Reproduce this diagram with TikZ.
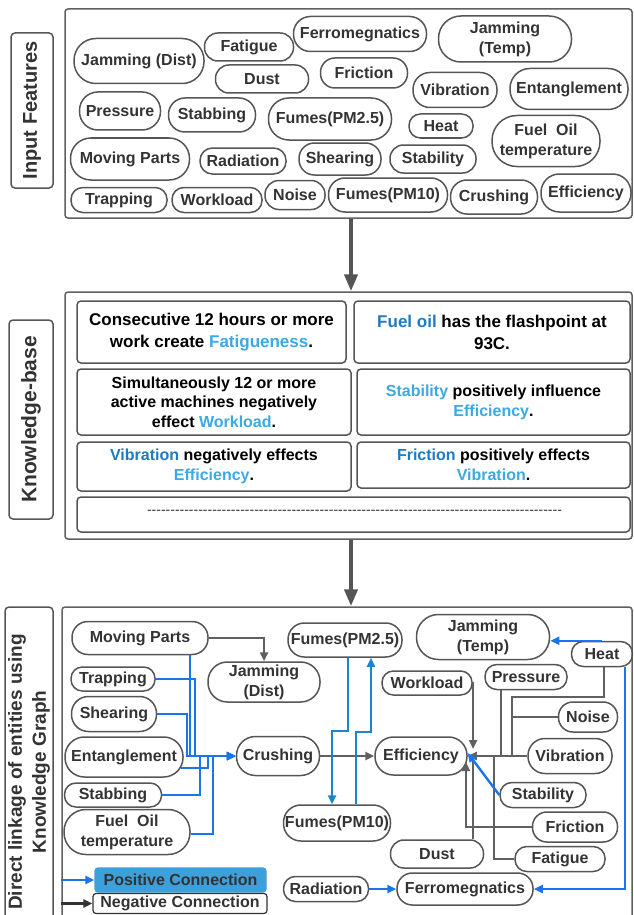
\documentclass[tikz,border=0pt]{standalone}
\usepackage{fontspec}
\setmainfont{Liberation Sans}
\usetikzlibrary{arrows.meta,calc}
\definecolor{bord}{HTML}{555555}
\definecolor{txt}{HTML}{333333}
\definecolor{lgray}{HTML}{606060}
\definecolor{pblue}{HTML}{1A75EA}
\definecolor{dblue}{HTML}{1C84CC}
\definecolor{kdark}{HTML}{1F7BBF}
\definecolor{klight}{HTML}{3BA9E2}
\definecolor{legfill}{HTML}{3DA0DA}
\newcommand\pillnode[6]{%
  \pgfmathsetmacro\pillr{#5/2-0.6}%
  \node[pill,minimum width=#4,minimum height=#5,rounded corners=\pillr pt] (#1) at (#2,#3) {#6};}
\tikzset{
  pill/.style={draw=bord,line width=1.5pt,rectangle,inner sep=0pt,text=txt,
    font=\bfseries\fontsize{16}{20}\selectfont,align=center},
  kbox/.style={draw=bord,line width=1.5pt,rounded corners=4pt,inner sep=0pt,
    font=\bfseries\fontsize{16}{20}\selectfont,align=center,text=black},
  sect/.style={draw=lgray,line width=1.5pt,rounded corners=3pt,inner sep=0pt},
  sidelab/.style={draw=bord,line width=1.5pt,rounded corners=4pt,inner sep=0pt,rotate=90,
    text=txt,font=\bfseries\fontsize{20}{24}\selectfont,align=center},
  bigarrow/.style={draw=bord,line width=4pt,-{Triangle[length=17pt,width=13pt]}},
  negarr/.style={draw=lgray,line width=2.4pt,-{Triangle[length=9pt,width=8pt]}},
  negline/.style={draw=lgray,line width=2.4pt},
  posarr/.style={draw=pblue,line width=2.4pt,-{Triangle[length=9pt,width=8pt]}},
  posdark/.style={draw=dblue,line width=2.4pt,-{Triangle[length=9pt,width=8pt]}},
}
\begin{document}
\begin{tikzpicture}[x=1pt,y=-1pt]
\useasboundingbox (0,0) rectangle (633,915);
\clip (0,0) rectangle (633,915);

% ---------- section frames ----------
\node[sect,minimum width=567,minimum height=209] (sec1) at (348.5,113.5) {};
\node[sect,minimum width=567,minimum height=247] (sec2) at (348.5,415.5) {};
\node[sect,minimum width=570,minimum height=330] (sec3) at (347,772) {};

\node[sidelab,minimum width=155,minimum height=42] (lab1) at (32,110.5) {Input Features};
\node[sidelab,minimum width=199,minimum height=44,font=\bfseries\fontsize{21}{24}\selectfont] (lab2) at (31,419.5) {Knowledge-base};
\node[sidelab,minimum width=330,minimum height=48,font=\bfseries\fontsize{19}{24}\selectfont] (lab3) at (29,772) {Direct linkage of entities using\\Knowledge Graph};

\coordinate (ax) at (351,0);
\draw[bigarrow] (sec1.south -| ax) -- (sec2.north -| ax);
\draw[bigarrow] (sec2.south -| ax) -- (sec3.north -| ax);

% ---------- input features ----------
\pillnode{ajd}{139}{61}{130}{45}{Jamming (Dist)}
\pillnode{afat}{249}{47}{89}{28}{Fatigue}
\pillnode{afer}{360}{34}{133}{35}{Ferromegnatics}
\pillnode{ajt}{505}{39}{133}{46}{Jamming\\(Temp)}
\pillnode{adust}{262}{79}{93}{28}{Dust}
\pillnode{afric}{364}{73}{87}{30}{Friction}
\pillnode{avib}{455}{90}{84}{35}{Vibration}
\pillnode{aent}{569}{89}{118}{41}{Entanglement}
\pillnode{apres}{120}{111}{81}{38}{Pressure}
\pillnode{astab}{212}{115}{87}{34}{Stabbing}
\pillnode{apm25}{330}{119}{123}{42}{Fumes(PM2.5)}
\pillnode{aheat}{441}{126}{64}{24}{Heat}
\pillnode{afuel}{546}{141}{108}{51}{Fuel\ \ Oil\\temperature}
\pillnode{amp}{130}{159}{119}{42}{Moving Parts}
\pillnode{arad}{243}{161}{86}{26}{Radiation}
\pillnode{ash}{340}{159}{82}{32}{Shearing}
\pillnode{astb}{433}{159}{86}{28}{Stability}
\pillnode{atr}{119}{200}{96}{25}{Trapping}
\pillnode{awl}{217}{200}{90}{25}{Workload}
\pillnode{anoise}{295}{195}{60}{29}{Noise}
\pillnode{apm10}{388}{195}{119}{34}{Fumes(PM10)}
\pillnode{acrush}{494}{197}{87}{34}{Crushing}
\pillnode{aeff}{586}{193}{90}{38}{Efficiency}

% ---------- knowledge base ----------
\node[kbox,minimum width=269,minimum height=62,font=\bfseries\fontsize{17}{22}\selectfont] (ka) at (211.5,332)
  {Consecutive 12 hours or more\\work create \textcolor{klight}{Fatigueness}.};
\node[kbox,minimum width=276,minimum height=62,font=\bfseries\fontsize{17}{22}\selectfont] (kb) at (492,332)
  {\textcolor{kdark}{Fuel oil} has the flashpoint at\\93C.};
\node[kbox,minimum width=274,minimum height=66,font=\bfseries\fontsize{16}{19.5}\selectfont] (kc) at (214,402)
  {Simultaneously 12 or more\\active machines negatively\\effect \textcolor{klight}{Workload}.};
\node[kbox,minimum width=273,minimum height=66] (kd) at (493.5,402)
  {\textcolor{klight}{Stability} positively influence\\\textcolor{klight}{Efficiency}.};
\node[kbox,minimum width=274,minimum height=49] (ke) at (214,466.5)
  {\textcolor{kdark}{Vibration} negatively effects\\\textcolor{klight}{Efficiency}.};
\node[kbox,minimum width=273,minimum height=46] (kf) at (493.5,465)
  {\textcolor{kdark}{Friction} positively effects\\\textcolor{klight}{Vibration}.};
\node[kbox,minimum width=553,minimum height=35] (kg) at (353.5,514.5) {};
\node[inner sep=0pt,text=txt,font=\fontsize{14}{16}\selectfont] (kdash) at (354.5,512)
  {\foreach \i in {1,...,89}{-\kern0pt}};

% ---------- knowledge graph ----------
\pillnode{mp}{140}{638}{136}{33}{Moving Parts}
\pillnode{tr}{113}{679}{84}{24}{Trapping}
\pillnode{sh}{114}{714}{85}{35}{Shearing}
\pillnode{ent}{124}{757}{118}{40}{Entanglement}
\pillnode{stab}{113}{795}{97}{24}{Stabbing}
\pillnode{fuel}{127}{832}{126}{45}{Fuel\ \ Oil\\temperature}
\pillnode{jd}{264}{682}{112}{40}{Jamming\\(Dist)}
\pillnode{crush}{278}{756}{83}{39}{Crushing}
\pillnode{pmA}{345}{640}{114}{34}{Fumes(PM2.5)}
\pillnode{pmB}{337}{823}{107}{36}{Fumes(PM10)}
\pillnode{jt}{483}{637}{133}{45}{Jamming\\(Temp)}
\pillnode{heat}{602}{654}{61}{25}{Heat}
\pillnode{wl}{427}{683}{90}{24}{Workload}
\pillnode{pres}{526}{677}{82}{25}{Pressure}
\pillnode{noise}{588}{717}{59}{30}{Noise}
\pillnode{eff}{421}{756}{92}{38}{Efficiency}
\pillnode{vib}{570}{756}{84}{35}{Vibration}
\pillnode{stb}{543}{795}{86}{25}{Stability}
\pillnode{fric}{575}{827}{85}{30}{Friction}
\pillnode{dust}{437}{854}{93}{28}{Dust}
\pillnode{fat}{560}{859}{90}{25}{Fatigue}
\pillnode{rad}{326}{889}{85}{25}{Radiation}
\pillnode{ferro}{465}{889}{136}{32}{Ferromegnatics}

% legend
\node[draw=legfill,fill=legfill,line width=1.2pt,rounded corners=3pt,minimum width=171,minimum height=24,inner sep=0pt,
  text=txt,font=\bfseries\fontsize{16}{18}\selectfont] (lpos) at (180.5,880) {Positive Connection};
\node[draw=txt,fill=white,line width=1.2pt,rounded corners=3pt,minimum width=174,minimum height=20,inner sep=0pt,
  text=txt,font=\bfseries\fontsize{16}{18}\selectfont] (lneg) at (180,903.5) {Negative Connection};
\draw[posarr] (sec3.west |- lpos) -- (lpos.west);
\draw[draw=txt,line width=2.4pt,-{Triangle[length=9pt,width=8pt]}] (sec3.west |- lneg) -- (lneg.west);

% blue connectors into Crushing
\draw[posarr] ([xshift=50]mp.south) |- (crush.west);
\draw[posarr] (tr.east) -| (195,756) -- (crush.west);
\draw[posarr] (sh.east) -| (187,756) -- (crush.west);
\draw[posarr] ([shift={(-3,11)}]ent.east) -| (208,756) -- (crush.west);
\draw[posarr] (stab.east) -| (200,756) -- (crush.west);
\draw[posarr] ([yshift=-2]fuel.east) -| (213,756) -- (crush.west);

% grey connectors
\draw[negarr] (mp.east) -| (jd.north);
\draw[negarr] (crush.east) -- (eff.west);
\draw[negarr] (vib.west) -- (eff.east);
\draw[negline] ([xshift=-25]pres.south) -- (501,756);
\draw[negline] ([xshift=2]heat.south) |- (512,697) -- (512,756);
\draw[negline] (noise.west) -- (512,717);
\draw[negline] (fat.west) -| (494,756);
\draw[negarr] (fric.west) -| (466,762);
\draw[negarr] (wl.east) -| (473,749);
\draw[negline] ([xshift=36]dust.north) -- (473,758);

% blue connectors right part
\draw[posarr] (stb.west) -- ([yshift=3]eff.east);
\draw[posarr] (heat.north) -- (heat.north -| jt.east);
\draw[posarr] ([xshift=23]heat.south) |- (ferro.east);
\draw[posarr] (rad.east) -- (ferro.west);
\draw[posdark] ([xshift=3]pmA.south) -- (348,731) -- (332,731) -- ([xshift=-5]pmB.north);
\draw[posdark] ([xshift=19]pmB.north) -- (356,732) -- (371,732) -- ([xshift=26]pmA.south);
\end{tikzpicture}
\end{document}
